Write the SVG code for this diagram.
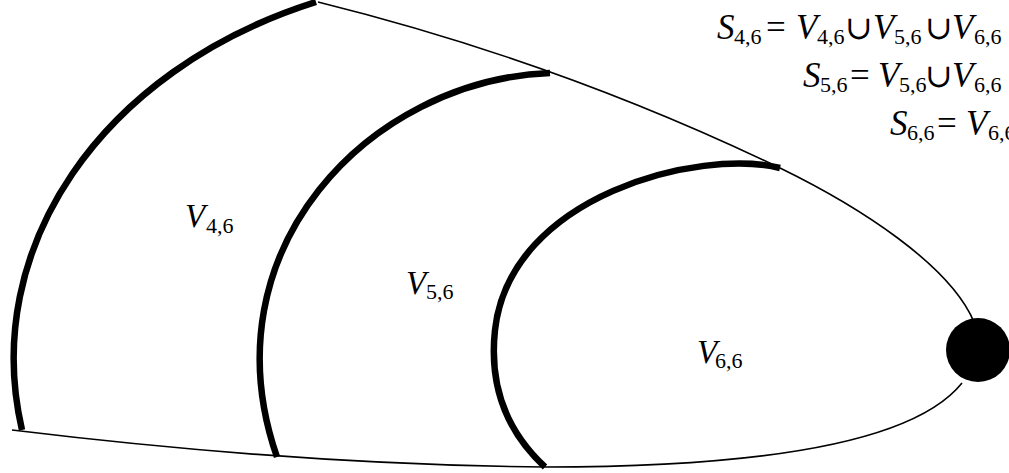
<svg xmlns="http://www.w3.org/2000/svg" width="1009" height="473" viewBox="0 0 1009 473">
<style>
.thin{fill:none;stroke:#000;stroke-width:1.6}
.thick{fill:none;stroke:#000;stroke-width:6.5}
text{font-family:'Liberation Serif','Times New Roman','DejaVu Serif',serif;font-size:33px;fill:#000}
.eq{font-size:35px}
.i{font-style:italic}
.s{font-size:22px}
.u{font-size:33px}
</style>
<rect width="1009" height="473" fill="#fff"/>
<g id="outline">
<path class="thin" d="M318 2 Q560 62 780 168 C860 207 950 265 974 322"/>
<path class="thin" d="M12 430 Q300 465 545 467 C740 467 910 448 962 383"/>
</g>
<g id="boundaries">
<path class="thick" d="M316 2 C100 70 -20 250 22 430"/>
<path class="thick" d="M550 73 C370 80 205 250 277 457"/>
<path class="thick" d="M780 168 C700 148 510 195 495 330 C489 385 505 430 545 467"/>
</g>
<g id="vertex"><circle cx="978" cy="350" r="32" fill="#000"/></g>
<g id="label-V46"><text y="227"><tspan class="i" x="185">V</tspan><tspan class="s" x="206" y="233">4,6</tspan></text></g>
<g id="label-V56"><text y="294"><tspan class="i" x="406">V</tspan><tspan class="s" x="426" y="299">5,6</tspan></text></g>
<g id="label-V66"><text y="363"><tspan class="i" x="697">V</tspan><tspan class="s" x="715" y="368">6,6</tspan></text></g>
<g id="eq1"><text class="eq" y="39"><tspan class="i" x="717">S</tspan><tspan class="s" x="734" y="44">4,6</tspan><tspan x="766" y="39">=</tspan><tspan class="i" x="796">V</tspan><tspan class="s" x="817" y="44">4,6</tspan><tspan class="u" x="845" y="39">∪</tspan><tspan class="i" x="873">V</tspan><tspan class="s" x="894" y="44">5,6</tspan><tspan class="u" x="925" y="39">∪</tspan><tspan class="i" x="952">V</tspan><tspan class="s" x="974" y="44">6,6</tspan></text></g>
<g id="eq2"><text class="eq" y="87"><tspan class="i" x="803">S</tspan><tspan class="s" x="820" y="92">5,6</tspan><tspan x="850" y="87">=</tspan><tspan class="i" x="878">V</tspan><tspan class="s" x="899" y="92">5,6</tspan><tspan class="u" x="925" y="87">∪</tspan><tspan class="i" x="952">V</tspan><tspan class="s" x="974" y="92">6,6</tspan></text></g>
<g id="eq3"><text class="eq" y="135"><tspan class="i" x="890">S</tspan><tspan class="s" x="907" y="140">6,6</tspan><tspan x="937" y="135">=</tspan><tspan class="i" x="966">V</tspan><tspan class="s" x="988" y="140">6,6</tspan></text></g>
</svg>
